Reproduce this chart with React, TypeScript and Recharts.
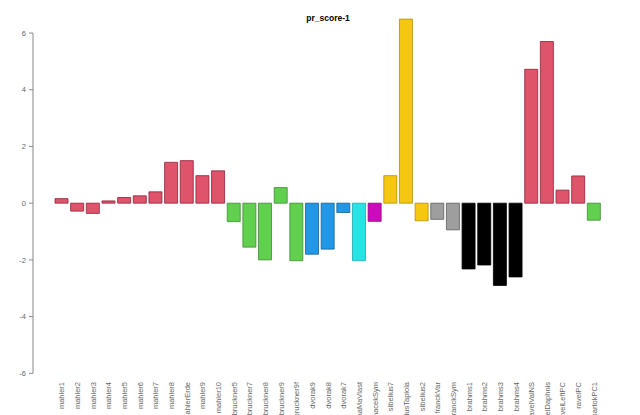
import React from 'react';
import { BarChart, Bar, XAxis, YAxis, Cell, ReferenceLine } from 'recharts';

const pieces = [
  'mahler1', 'mahler2', 'mahler3', 'mahler4', 'mahler5', 'mahler6', 'mahler7', 'mahler8',
  'mahlerErde', 'mahler9', 'mahler10',
  'bruckner5', 'bruckner7', 'bruckner8', 'bruckner9', 'bruckner9f',
  'dvorak9', 'dvorak8', 'dvorak7',
  'smetanaMaVlast', 'janacekSym',
  'sibelius7', 'sibeliusTapiola', 'sibelius2',
  'franckVar', 'franckSym',
  'brahms1', 'brahms2', 'brahms3', 'brahms4',
  'ravelValNS', 'ravelDaphnis', 'ravelLeftPC', 'ravelPC',
  'bartokPC1',
];

const scores = [
  0.16, -0.28, -0.36, 0.08, 0.2, 0.26, 0.4, 1.44,
  1.5, 0.97, 1.14,
  -0.65, -1.55, -2.0, 0.55, -2.03,
  -1.8, -1.62, -0.33,
  -2.03, -0.64,
  0.97, 6.49, -0.62,
  -0.57, -0.94,
  -2.32, -2.18, -2.9, -2.6,
  4.72, 5.7, 0.46, 0.96,
  -0.6,
];

const groups = [
  'red', 'red', 'red', 'red', 'red', 'red', 'red', 'red', 'red', 'red', 'red',
  'green', 'green', 'green', 'green', 'green',
  'blue', 'blue', 'blue',
  'cyan', 'magenta',
  'yellow', 'yellow', 'yellow',
  'gray', 'gray',
  'black', 'black', 'black', 'black',
  'red', 'red', 'red', 'red',
  'green',
];

const yTicks = [-6, -4, -2, 0, 2, 4, 6];

const fills: Record<string, string> = {
  red: '#DF536B',
  green: '#61D04F',
  blue: '#2297E6',
  cyan: '#28E2E5',
  magenta: '#CD0BBC',
  yellow: '#F5C710',
  gray: '#9E9E9E',
  black: '#000000',
};

const strokes: Record<string, string> = {
  red: '#8E2238',
  green: '#3C8A30',
  blue: '#175F93',
  cyan: '#1FA9AB',
  magenta: '#85077A',
  yellow: '#B0900E',
  gray: '#5E5E5E',
  black: '#000000',
};

const data = pieces.map((name, i) => ({ name, score: scores[i], group: groups[i] }));

const FONT = '"Liberation Sans", Arial, Helvetica, sans-serif';

const XTick = (props: any) => {
  const { x, y, payload } = props;
  return (
    <text
      x={x}
      y={y}
      transform={`rotate(-90, ${x}, ${y})`}
      textAnchor="end"
      dy="0.35em"
      fontSize={7.5}
      fill="#666"
      fontFamily={FONT}
    >
      {payload.value}
    </text>
  );
};

export default function App() {
  return (
    <div style={{ position: 'absolute', left: 0, top: 0, width: 640, height: 415, background: '#fff', overflow: 'hidden' }}>
      <div
        style={{
          position: 'absolute',
          left: 228,
          top: 14,
          width: 200,
          textAlign: 'center',
          fontFamily: FONT,
          fontWeight: 'bold',
          fontSize: 8.5,
          lineHeight: '9px',
          color: '#000',
        }}
      >
        pr_score-1
      </div>
      <BarChart
        width={640}
        height={415}
        data={data}
        margin={{ top: 16, right: 17, bottom: 0, left: 0 }}
        barSize={13}
      >
        <XAxis
          dataKey="name"
          interval={0}
          axisLine={false}
          tickLine={false}
          tickSize={3}
          tickMargin={0}
          padding={{ left: 21, right: 21 }}
          height={36}
          tick={<XTick />}
        />
        <XAxis xAxisId="frame" type="number" domain={[0, 1]} hide />
        <YAxis
          width={33}
          domain={[-6.2, 6.6]}
          ticks={yTicks}
          interval={0}
          axisLine={false}
          tickLine={{ stroke: '#888' }}
          tickSize={4}
          tickMargin={3}
          tick={{ fontSize: 7.5, fill: '#666', fontFamily: FONT }}
        />
        <ReferenceLine
          xAxisId="frame"
          segment={[{ x: 0, y: -6 }, { x: 0, y: 6 }]}
          stroke="#888"
          strokeWidth={1}
        />
        <Bar dataKey="score" isAnimationActive={false} strokeWidth={0.8}>
          {data.map((d, i) => (
            <Cell key={i} fill={fills[d.group]} stroke={strokes[d.group]} />
          ))}
        </Bar>
      </BarChart>
    </div>
  );
}
